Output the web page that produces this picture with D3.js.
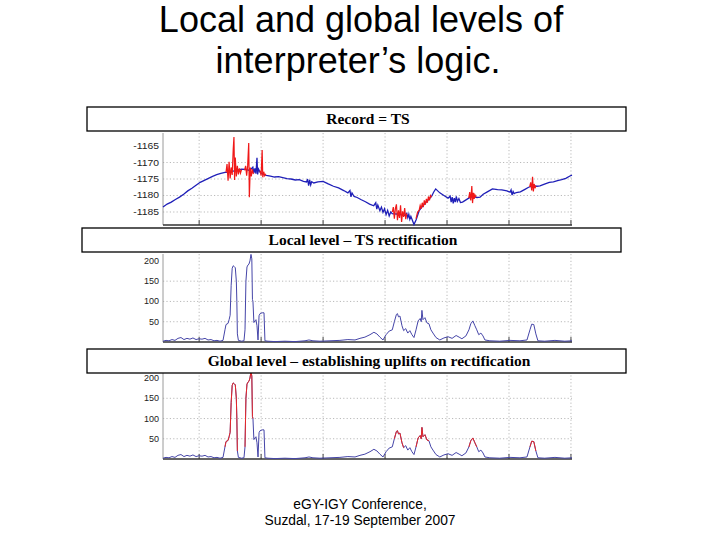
<!DOCTYPE html>
<html><head><meta charset="utf-8">
<script src="https://cdn.jsdelivr.net/npm/d3@7"></script>
<style>html,body{margin:0;padding:0;background:#fff;} svg{display:block;}</style>
</head><body><div id="chart"></div>
<script>
// ---------- DATA ----------
const titleLines = ["Local and global levels of", "interpreter\u2019s logic."];
const footerLines = ["eGY-IGY Conference,", "Suzdal, 17-19 September 2007"];
const panelTitles = ["Record = TS", "Local level \u2013 TS rectification", "Global level \u2013 establishing uplifts on rectification"];

// time axis (minutes), grid every hour
const xTicks = [35, 95, 155, 215, 275, 335, 395];
const recordTicks = [-1165, -1170, -1175, -1180, -1185];
const recordGrid = [-1170, -1175, -1180, -1185];
const rectTicks = [200, 150, 100, 50];
const rectGrid = [150, 100, 50];

// Record = TS (blue trace) [t, value]
const recordSeries = [[0,-1183.5],[4,-1182.6],[8,-1182.0],[12,-1181.2],[16,-1180.5],[20,-1179.6],[24,-1178.6],[28,-1177.8],[32,-1176.9],[36,-1176.0],[40,-1175.4],[44,-1174.8],[48,-1174.2],[52,-1173.7],[56,-1173.3],[60,-1173.0],[64,-1172.9],[68,-1172.6],[72,-1172.3],[76,-1172.0],[80,-1172.1],[84,-1172.4],[87,-1171.4],[88,-1173.2],[89,-1171.8],[90,-1173.4],[91,-1168.6],[91.6,-1173.6],[92.5,-1172.0],[94,-1173.0],[97,-1173.6],[100,-1173.9],[104,-1174.1],[108,-1174.4],[112,-1174.3],[116,-1174.6],[120,-1174.9],[124,-1175.0],[128,-1175.3],[132,-1175.2],[136,-1175.7],[139,-1175.9],[140,-1175.0],[141,-1177.0],[142,-1175.3],[143,-1176.8],[144,-1175.8],[146,-1176.2],[150,-1175.9],[155,-1175.7],[160,-1176.5],[165,-1177.2],[170,-1177.7],[175,-1178.5],[179,-1179.2],[181,-1178.5],[182,-1180.4],[183,-1179.2],[185,-1180.3],[188,-1180.6],[192,-1181.3],[196,-1181.9],[200,-1182.6],[204,-1183.1],[206,-1182.2],[207,-1184.1],[208,-1182.9],[210,-1184.6],[211.5,-1183.5],[213,-1185.1],[214.5,-1184.0],[216,-1185.8],[217.5,-1184.5],[219,-1186.2],[220.5,-1185.0],[222,-1185.5],[226,-1185.6],[230,-1185.8],[234,-1186.0],[236,-1185.4],[237,-1186.7],[238,-1185.7],[239,-1187.2],[240,-1186.3],[243,-1188.8],[245,-1187.4],[248,-1184.6],[252,-1183.0],[256,-1181.6],[260,-1180.3],[262,-1179.0],[264,-1178.0],[268,-1179.2],[272,-1180.0],[276,-1180.8],[278,-1180.2],[279,-1182.0],[280,-1180.5],[281,-1182.4],[282,-1180.8],[283,-1182.0],[284,-1180.3],[285,-1181.8],[286.5,-1180.9],[288,-1182.1],[290,-1182.0],[293,-1181.4],[296,-1180.8],[300,-1180.3],[304,-1180.6],[307,-1180.5],[310,-1179.6],[314,-1178.9],[319,-1178.0],[324,-1178.2],[328,-1178.3],[333,-1178.6],[336,-1179.0],[337,-1178.3],[338,-1179.9],[339,-1178.8],[340,-1179.4],[342,-1179.1],[346,-1178.9],[350,-1178.2],[354,-1177.5],[358,-1177.1],[362,-1177.2],[365,-1177.1],[370,-1176.5],[374,-1176.0],[378,-1175.9],[382,-1175.5],[386,-1175.2],[390,-1174.8],[394,-1174.1],[396,-1173.8]];

// disturbed intervals of the record (red)
const burst1 = [[61,-1173.0],[62,-1170.5],[63,-1175.5],[64,-1169.8],[65,-1174.8],[66,-1171.5],[67,-1173.8],[68,-1166.0],[68.7,-1162.3],[69.3,-1175.3],[70,-1168.5],[71,-1174.2],[72,-1171.0],[73,-1173.6],[74,-1171.8],[75,-1173.2],[76,-1172.2]];
const burst2 = [[79,-1172.4],[80,-1171.0],[81,-1174.0],[82,-1170.8],[83,-1164.1],[83.6,-1180.5],[84.5,-1171.5],[85.5,-1174.2],[86.5,-1172.0],[87.5,-1173.5]];
const burst3 = [[94,-1172.5],[95,-1174.0],[96,-1166.2],[96.6,-1174.5],[97.5,-1172.8],[98.5,-1174.0],[99.5,-1173.4]];
const burst4 = [[222,-1185.0],[223,-1183.5],[224,-1187.0],[225,-1184.0],[226,-1182.7],[227,-1187.5],[228,-1184.5],[229,-1186.8],[230,-1183.0],[231,-1188.0],[232,-1184.8],[233,-1186.5],[234,-1183.8],[235,-1187.2],[236,-1185.5]];
const burst5 = [[245,-1187.0],[246.5,-1185.0],[248,-1184.5],[249,-1183.0],[250,-1184.0],[251,-1182.2],[252,-1183.5],[253,-1181.5],[254,-1182.8],[255,-1181.0],[256,-1182.2],[257,-1180.3],[258,-1181.5],[259,-1180.0],[260,-1180.5]];
const burst6 = [[296,-1180.8],[297,-1179.0],[298,-1181.5],[299,-1177.1],[299.7,-1182.3],[300.5,-1179.2],[301.3,-1181.0],[302,-1179.8],[303,-1180.5]];
const burst7 = [[355,-1177.4],[356,-1176.0],[357,-1178.5],[357.8,-1174.3],[358.6,-1178.8],[359.4,-1176.5],[360.2,-1177.8],[361,-1177.0]];
const recordBursts = [burst1, burst2, burst3, burst4, burst5, burst6, burst7];

// TS rectification [t, value]
const rectification = [[0,2],[2.9,4],[5.8,3],[8.7,6],[11.6,4],[14.5,9],[17.4,11],[20.3,6],[23.2,9],[26.1,7],[29,10],[32,6],[34.8,8],[37.8,7],[40.7,9],[43.6,5],[46.5,6],[49.4,3],[52.3,4],[55.2,2],[58.1,4],[60,30],[61,43],[63,46],[64,55],[65,66],[66,140],[67,182],[68,188],[69,186],[70,183],[71,150],[71.5,100],[72,20],[73,4],[76,2],[78.4,3],[79.4,30],[80.3,150],[81.3,185],[82.3,190],[83.2,192],[84.2,200],[85.2,216],[86,205],[86.6,105],[87.1,100],[88,48],[89,52],[90,55],[91,40],[92,5],[93,65],[94,70],[96,72],[97.8,72],[98.7,3],[101.6,2],[108.4,1],[118,2],[127.8,1],[137.5,3],[141.3,5],[145.2,3],[152,2],[161.7,3],[171.3,4],[179,6],[185.9,5],[190.7,9],[195.5,12],[200.4,18],[204.2,24],[207.1,20],[210,12],[213,5],[216,18],[219,27],[222,30],[224,50],[226,68],[227,70],[228,62],[229.4,64],[231.4,40],[233,28],[235,33],[237,22],[239,28],[241,18],[243,11],[245,30],[247,52],[249,58],[250,50],[250.7,78],[251.7,55],[253.6,60],[255.6,47],[257.5,45],[259.4,30],[261.4,22],[264.3,11],[268,5],[272,10],[276,13],[279.9,9],[283.8,16],[286.7,12],[289.4,8],[293.3,15],[296.2,30],[298,45],[300,52],[302,40],[303.8,30],[305.7,18],[307.8,22],[309.8,15],[311.7,5],[316.5,3],[326,2],[336,4],[345.6,3],[352.4,5],[355.3,30],[357,44],[359,43],[361,20],[363,3],[369.6,2],[379.5,4],[389,2],[396,3]];

// uplift intervals established on rectification (red, global level)
const upliftStart = [60, 79.4, 224, 245, 296.2, 355.3];
const upliftEnd   = [72.5, 87.5, 233, 257.5, 304, 361];

// ---------- DRAW ----------
const svg = d3.select('#chart').append('svg').attr('width', 720).attr('height', 540);
svg.append('rect').attr('width', 720).attr('height', 540).attr('fill', '#fff');

const x = d3.scaleLinear().domain([0, 396]).range([163, 572]);

svg.selectAll('text.title').data(titleLines).enter().append('text')
  .attr('x', (d, i) => i === 0 ? 361 : 358).attr('y', (d, i) => 32 + i * 41)
  .attr('text-anchor', 'middle').attr('font-family', 'Liberation Sans, Arial, sans-serif')
  .attr('font-size', 36).attr('fill', '#000').text(d => d);

svg.selectAll('text.footer').data(footerLines).enter().append('text')
  .attr('x', 360).attr('y', (d, i) => 509 + i * 16)
  .attr('text-anchor', 'middle').attr('font-family', 'Liberation Sans, Arial, sans-serif')
  .attr('font-size', 13.8).attr('fill', '#000').text(d => d);

function panel(opt) {
  const g = svg.append('g');
  const y = d3.scaleLinear().domain(opt.domain).range([opt.bottom, opt.top]);
  g.selectAll('line.hg').data(opt.grid).enter().append('line')
    .attr('x1', 163).attr('x2', 572).attr('y1', d => y(d)).attr('y2', d => y(d))
    .attr('stroke', '#a8a8a8').attr('stroke-width', 0.8).attr('stroke-dasharray', '1.2,2.2');
  g.selectAll('line.vg').data(xTicks).enter().append('line')
    .attr('x1', d => x(d)).attr('x2', d => x(d)).attr('y1', opt.top).attr('y2', opt.bottom)
    .attr('stroke', '#a8a8a8').attr('stroke-width', 0.8).attr('stroke-dasharray', '1.2,2.2');
  g.selectAll('line.xt').data(xTicks).enter().append('line')
    .attr('x1', d => x(d)).attr('x2', d => x(d)).attr('y1', opt.bottom).attr('y2', opt.bottom - 5)
    .attr('stroke', '#444').attr('stroke-width', 1);
  g.append('line').attr('x1', 163).attr('x2', 163).attr('y1', opt.top).attr('y2', opt.bottom)
    .attr('stroke', '#9a9a9a').attr('stroke-width', 1);
  g.append('line').attr('x1', 163).attr('x2', 572).attr('y1', opt.bottom).attr('y2', opt.bottom)
    .attr('stroke', '#333').attr('stroke-width', 1.4);
  g.selectAll('text.yl').data(opt.ticks).enter().append('text')
    .attr('transform', d => `translate(159,${y(d) + 3}) scale(${opt.sx},1)`)
    .attr('text-anchor', 'end').attr('font-family', 'Liberation Sans, Arial, sans-serif')
    .attr('font-size', opt.fs).attr('fill', '#222').text(d => d);
  return { g, y };
}

// Panel 1: record
const p1 = panel({ domain: [-1188.94, -1161.06], top: 133, bottom: 225, grid: recordGrid, ticks: recordTicks, fs: 8.5, sx: 1.22 });
const line1 = d3.line().x(d => x(d[0])).y(d => p1.y(d[1]));
p1.g.append('path').datum(recordSeries).attr('d', line1)
  .attr('fill', 'none').attr('stroke', '#1f1fb8').attr('stroke-width', 1.3);
p1.g.selectAll('path.burst').data(recordBursts).enter().append('path')
  .attr('d', line1).attr('fill', 'none').attr('stroke', '#f01818').attr('stroke-width', 1.2);

// Panel 2: local level
const p2 = panel({ domain: [0, 217], top: 254, bottom: 342, grid: rectGrid, ticks: rectTicks, fs: 9, sx: 1 });
const line2 = d3.line().x(d => x(d[0])).y(d => p2.y(d[1]));
p2.g.append('path').datum(rectification).attr('d', line2)
  .attr('fill', 'none').attr('stroke', '#4545a8').attr('stroke-width', 1);

// Panel 3: global level
const p3 = panel({ domain: [0, 215], top: 372, bottom: 459, grid: rectGrid, ticks: rectTicks, fs: 9, sx: 1 });
const line3 = d3.line().x(d => x(d[0])).y(d => p3.y(d[1]));
p3.g.append('path').datum(rectification).attr('d', line3)
  .attr('fill', 'none').attr('stroke', '#4545a8').attr('stroke-width', 1);
const upliftSegs = upliftStart.map((s, i) => rectification.filter(d => d[0] >= s && d[0] <= upliftEnd[i]));
p3.g.selectAll('path.up').data(upliftSegs).enter().append('path')
  .attr('d', line3).attr('fill', 'none').attr('stroke', '#e82828').attr('stroke-width', 1);

// title boxes
const boxes = [
  { x: 87, y: 107, tx: 368 },
  { x: 82, y: 228, tx: 363 },
  { x: 87, y: 349, tx: 369 }
];
boxes.forEach((b, i) => {
  svg.append('rect').attr('x', b.x).attr('y', b.y).attr('width', 539).attr('height', 24)
    .attr('fill', '#fff').attr('stroke', '#000').attr('stroke-width', 1.3);
  svg.append('text').attr('x', b.tx).attr('y', b.y + 17).attr('text-anchor', 'middle')
    .attr('font-family', 'Liberation Serif, Times New Roman, serif').attr('font-weight', 'bold')
    .attr('font-size', 15.5).attr('fill', '#000').text(panelTitles[i]);
});
</script></body></html>
